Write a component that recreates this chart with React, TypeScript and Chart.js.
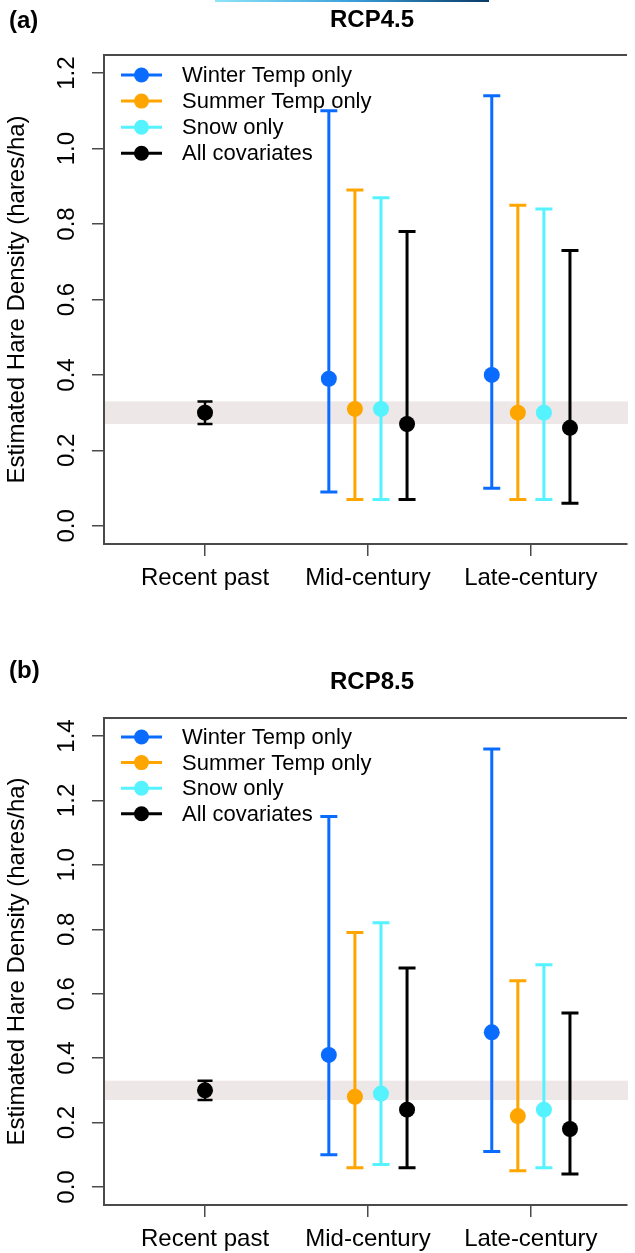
import React, { useEffect, useRef } from 'react';
import { Chart, registerables } from 'chart.js';

Chart.register(...registerables);

// ---------------- data ----------------
const categories = ['Recent past', 'Mid-century', 'Late-century'];
const xTickValues = [1, 2, 3];
const seriesNames = ['Winter Temp only', 'Summer Temp only', 'Snow only', 'All covariates'];

// Recent past (observed), identical in both panels
const recentMean = [0.30];
const recentLower = [0.27];
const recentUpper = [0.33];
// reference band (recent-past CI)
const bandRange = [0.27, 0.33];

// RCP4.5 — each inner array: [Mid-century, Late-century], rows follow seriesNames
const rcp45Mean = [[0.39, 0.40], [0.31, 0.30], [0.31, 0.30], [0.27, 0.26]];
const rcp45Lower = [[0.09, 0.10], [0.07, 0.07], [0.07, 0.07], [0.07, 0.06]];
const rcp45Upper = [[1.10, 1.14], [0.89, 0.85], [0.87, 0.84], [0.78, 0.73]];
const rcp45YTicks = [0, 0.2, 0.4, 0.6, 0.8, 1.0, 1.2];

// RCP8.5
const rcp85Mean = [[0.41, 0.48], [0.28, 0.22], [0.29, 0.24], [0.24, 0.18]];
const rcp85Lower = [[0.10, 0.11], [0.06, 0.05], [0.07, 0.06], [0.06, 0.04]];
const rcp85Upper = [[1.15, 1.36], [0.79, 0.64], [0.82, 0.69], [0.68, 0.54]];
const rcp85YTicks = [0, 0.2, 0.4, 0.6, 0.8, 1.0, 1.2, 1.4];

// ---------------- style ----------------
const FONT = "'Liberation Sans', Arial, Helvetica, sans-serif";
const seriesColors = ['#0a6cff', '#ffa500', '#55f2ff', '#000000'];
const seriesOffsets = [-0.24, -0.08, 0.08, 0.24];
const BAND_COLOR = '#ede7e7';
const AXIS_COLOR = '#4a4a4a';

type PanelOpts = {
  tag: string;
  title: string;
  tagBaseline: number;
  titleBaseline: number;
  legendY0: number;
  legendStep: number;
};

const decorPlugin = {
  id: 'panelDecor',
  beforeDatasetsDraw(chart: any) {
    const { ctx, chartArea: ca, scales } = chart;
    const y = scales.y;
    ctx.save();
    // band
    const yt = y.getPixelForValue(bandRange[1]);
    const yb = y.getPixelForValue(bandRange[0]);
    ctx.fillStyle = BAND_COLOR;
    ctx.fillRect(ca.left + 1, yt, ca.right - ca.left, yb - yt);
    // error bars
    chart.data.datasets.forEach((ds: any, di: number) => {
      const meta = chart.getDatasetMeta(di);
      meta.data.forEach((pt: any, j: number) => {
        const raw = ds.data[j];
        const x = pt.x;
        const y1 = y.getPixelForValue(raw.lo);
        const y2 = y.getPixelForValue(raw.hi);
        const hw = ds.capHalf;
        ctx.strokeStyle = ds.backgroundColor;
        ctx.lineWidth = ds.barWidth;
        ctx.lineCap = 'butt';
        ctx.beginPath();
        ctx.moveTo(x, y1);
        ctx.lineTo(x, y2);
        ctx.moveTo(x - hw, y1);
        ctx.lineTo(x + hw, y1);
        ctx.moveTo(x - hw, y2);
        ctx.lineTo(x + hw, y2);
        ctx.stroke();
      });
    });
    ctx.restore();
  },
  afterDraw(chart: any) {
    const { ctx, chartArea: ca } = chart;
    const o: PanelOpts = chart.options.plugins.panelDecor;
    ctx.save();
    // top frame line
    ctx.strokeStyle = AXIS_COLOR;
    ctx.lineWidth = 2;
    ctx.beginPath();
    ctx.moveTo(ca.left - 1, ca.top);
    ctx.lineTo(ca.right, ca.top);
    ctx.stroke();
    // titles
    ctx.fillStyle = '#000';
    ctx.textBaseline = 'alphabetic';
    ctx.font = `bold 24px ${FONT}`;
    ctx.textAlign = 'left';
    ctx.fillText(o.tag, 9, o.tagBaseline);
    ctx.textAlign = 'center';
    ctx.fillText(o.title, 372, o.titleBaseline);
    // legend
    ctx.font = `22px ${FONT}`;
    ctx.textAlign = 'left';
    ctx.textBaseline = 'middle';
    seriesNames.forEach((name, i) => {
      const yy = o.legendY0 + i * o.legendStep;
      ctx.strokeStyle = seriesColors[i];
      ctx.lineWidth = 3;
      ctx.beginPath();
      ctx.moveTo(121, yy);
      ctx.lineTo(162, yy);
      ctx.stroke();
      ctx.fillStyle = seriesColors[i];
      ctx.beginPath();
      ctx.arc(141.5, yy, 7.5, 0, Math.PI * 2);
      ctx.fill();
      ctx.fillStyle = '#000';
      ctx.fillText(name, 182, yy + 1);
    });
    ctx.restore();
  },
};

function buildDatasets(means: number[][], lows: number[][], highs: number[][]) {
  const ds: any[] = [
    {
      label: 'Recent past',
      data: recentMean.map((m, i) => ({ x: 1, y: m, lo: recentLower[i], hi: recentUpper[i] })),
      backgroundColor: '#000000',
      borderColor: '#000000',
      pointRadius: 8,
      pointBorderWidth: 0,
      barWidth: 2.5,
      capHalf: 7.5,
    },
  ];
  seriesNames.forEach((name, s) => {
    ds.push({
      label: name,
      data: means[s].map((m, j) => ({
        x: xTickValues[j + 1] + seriesOffsets[s],
        y: m,
        lo: lows[s][j],
        hi: highs[s][j],
      })),
      backgroundColor: seriesColors[s],
      borderColor: seriesColors[s],
      pointRadius: 8,
      pointBorderWidth: 0,
      barWidth: 3,
      capHalf: 8.5,
    });
  });
  return ds;
}

type PanelProps = {
  height: number;
  padTop: number;
  xAxisHeight: number;
  yMin: number;
  yMax: number;
  yTicks: number[];
  means: number[][];
  lows: number[][];
  highs: number[][];
  decor: PanelOpts;
};

function Panel(p: PanelProps) {
  const ref = useRef<HTMLCanvasElement>(null);
  useEffect(() => {
    if (!ref.current) return;
    const chart = new Chart(ref.current, {
      type: 'scatter',
      data: { datasets: buildDatasets(p.means, p.lows, p.highs) },
      plugins: [decorPlugin],
      options: {
        animation: false,
        responsive: false,
        maintainAspectRatio: false,
        layout: { padding: { top: p.padTop, left: 0, right: 0, bottom: 0 } },
        plugins: {
          legend: { display: false },
          tooltip: { enabled: false },
          panelDecor: p.decor,
        } as any,
        scales: {
          x: {
            type: 'linear',
            min: 0.38,
            max: 3.59,
            afterBuildTicks: (scale: any) => {
              scale.ticks = xTickValues.map((v) => ({ value: v }));
            },
            afterFit: (scale: any) => {
              scale.height = p.xAxisHeight;
            },
            ticks: {
              autoSkip: false,
              maxRotation: 0,
              minRotation: 0,
              padding: 8,
              color: '#000',
              font: { size: 24, family: FONT },
              callback: (v: any) => categories[Math.round(Number(v)) - 1],
            },
            grid: {
              display: true,
              drawOnChartArea: false,
              drawTicks: true,
              tickLength: 12,
              color: AXIS_COLOR,
              lineWidth: 1.5,
            },
            border: { display: true, color: AXIS_COLOR, width: 2 },
          },
          y: {
            type: 'linear',
            min: p.yMin,
            max: p.yMax,
            afterBuildTicks: (scale: any) => {
              scale.ticks = p.yTicks.map((v) => ({ value: v }));
            },
            afterFit: (scale: any) => {
              scale.width = 104;
            },
            ticks: {
              minRotation: 90,
              maxRotation: 90,
              crossAlign: 'center',
              padding: 8,
              color: '#000',
              font: { size: 24, family: FONT },
              callback: (v: any) => Number(v).toFixed(1),
            },
            grid: {
              display: true,
              drawOnChartArea: false,
              drawTicks: true,
              tickLength: 12,
              color: AXIS_COLOR,
              lineWidth: 1.5,
            },
            border: { display: true, color: AXIS_COLOR, width: 2 },
            title: {
              display: true,
              text: 'Estimated Hare Density (hares/ha)',
              color: '#000',
              font: { size: 24, family: FONT },
              padding: { top: 3, bottom: 0 },
            },
          },
        },
      } as any,
    });
    return () => chart.destroy();
  }, []);
  return (
    <canvas
      ref={ref}
      width={635}
      height={p.height}
      style={{ display: 'block', width: 635, height: p.height }}
    />
  );
}

export default function App() {
  return (
    <div style={{ position: 'absolute', left: 0, top: 0, width: 635, height: 1253, background: '#fff', overflow: 'hidden' }}>
      <div
        style={{
          position: 'absolute',
          left: 215,
          top: 0,
          width: 274,
          height: 2,
          background: 'linear-gradient(to right, #8fe4f7, #3aa0dc, #0a3a66)',
        }}
      />
      <Panel
        height={626}
        padTop={55}
        xAxisHeight={82}
        yMin={-0.048}
        yMax={1.248}
        yTicks={rcp45YTicks}
        means={rcp45Mean}
        lows={rcp45Lower}
        highs={rcp45Upper}
        decor={{ tag: '(a)', title: 'RCP4.5', tagBaseline: 28, titleBaseline: 27, legendY0: 75, legendStep: 26.1 }}
      />
      <Panel
        height={627}
        padTop={92}
        xAxisHeight={48}
        yMin={-0.056}
        yMax={1.456}
        yTicks={rcp85YTicks}
        means={rcp85Mean}
        lows={rcp85Lower}
        highs={rcp85Upper}
        decor={{ tag: '(b)', title: 'RCP8.5', tagBaseline: 52, titleBaseline: 63, legendY0: 111, legendStep: 25.6 }}
      />
    </div>
  );
}
